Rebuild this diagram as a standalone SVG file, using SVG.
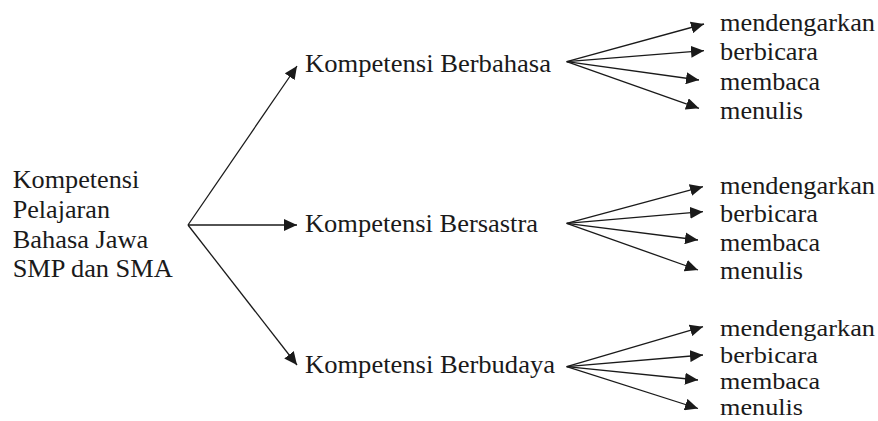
<svg xmlns="http://www.w3.org/2000/svg" width="878" height="421" viewBox="0 0 878 421">
<style>
.t text{font-size:25px;fill:#1a1a1a}
.t .s{font-size:24px}
.c line{stroke:#1a1a1a;stroke-width:1.3;marker-end:url(#ah)}
</style>
<defs>
<marker id="ah" markerUnits="userSpaceOnUse" markerWidth="14" markerHeight="12" refX="13" refY="6" orient="auto" viewBox="0 0 14 12">
<path d="M0,0 L13,6 L0,12 Z" fill="#1a1a1a"/>
</marker>
</defs>
<rect width="878" height="421" fill="#fff"/>
<g class="t" font-family="Liberation Serif, DejaVu Serif, serif">
<g id="root">
<text x="12.7" y="188" textLength="126.6" lengthAdjust="spacingAndGlyphs">Kompetensi</text>
<text x="12.7" y="218" textLength="97.3" lengthAdjust="spacingAndGlyphs">Pelajaran</text>
<text x="12.7" y="248" textLength="135.6" lengthAdjust="spacingAndGlyphs">Bahasa Jawa</text>
<text x="12.7" y="277" textLength="160" lengthAdjust="spacingAndGlyphs">SMP dan SMA</text>
</g>
<g id="berbahasa"><text x="305" y="72" textLength="246" lengthAdjust="spacingAndGlyphs">Kompetensi Berbahasa</text></g>
<g id="bersastra"><text x="305" y="232" textLength="233" lengthAdjust="spacingAndGlyphs">Kompetensi Bersastra</text></g>
<g id="berbudaya"><text x="305" y="373" textLength="250" lengthAdjust="spacingAndGlyphs">Kompetensi Berbudaya</text></g>
<g id="leaves1">
<text x="720" y="31" textLength="155" lengthAdjust="spacingAndGlyphs">mendengarkan</text>
<text x="720" y="60" textLength="98" lengthAdjust="spacingAndGlyphs">berbicara</text>
<text x="720" y="89.5" textLength="100" lengthAdjust="spacingAndGlyphs">membaca</text>
<text x="720" y="118.5" textLength="83" lengthAdjust="spacingAndGlyphs">menulis</text>
</g>
<g id="leaves2">
<text x="720" y="193.5" textLength="155" lengthAdjust="spacingAndGlyphs">mendengarkan</text>
<text x="720" y="222" textLength="98" lengthAdjust="spacingAndGlyphs">berbicara</text>
<text x="720" y="250.5" textLength="100" lengthAdjust="spacingAndGlyphs">membaca</text>
<text x="720" y="279" textLength="83" lengthAdjust="spacingAndGlyphs">menulis</text>
</g>
<g id="leaves3">
<text class="s" x="720" y="336" textLength="155" lengthAdjust="spacingAndGlyphs">mendengarkan</text>
<text class="s" x="720" y="362.5" textLength="98" lengthAdjust="spacingAndGlyphs">berbicara</text>
<text class="s" x="720" y="388.5" textLength="100" lengthAdjust="spacingAndGlyphs">membaca</text>
<text class="s" x="720" y="415" textLength="83" lengthAdjust="spacingAndGlyphs">menulis</text>
</g>
</g>
<g id="connectors" class="c">
<line x1="188" y1="225" x2="297" y2="66"/>
<line x1="188" y1="225" x2="297" y2="225"/>
<line x1="188" y1="225" x2="297" y2="365"/>
<line x1="566.7" y1="61.7" x2="704" y2="24"/>
<line x1="566.7" y1="61.7" x2="704" y2="50.7"/>
<line x1="566.7" y1="61.7" x2="699" y2="80"/>
<line x1="566.7" y1="61.7" x2="699" y2="108.3"/>
<line x1="566.7" y1="223.3" x2="703" y2="186.7"/>
<line x1="566.7" y1="223.3" x2="703" y2="211.7"/>
<line x1="566.7" y1="223.3" x2="698" y2="240"/>
<line x1="566.7" y1="223.3" x2="698" y2="270"/>
<line x1="566.7" y1="366.7" x2="703" y2="326.7"/>
<line x1="566.7" y1="366.7" x2="703" y2="355"/>
<line x1="566.7" y1="366.7" x2="698" y2="380"/>
<line x1="566.7" y1="366.7" x2="698" y2="408.5"/>
</g>
</svg>
